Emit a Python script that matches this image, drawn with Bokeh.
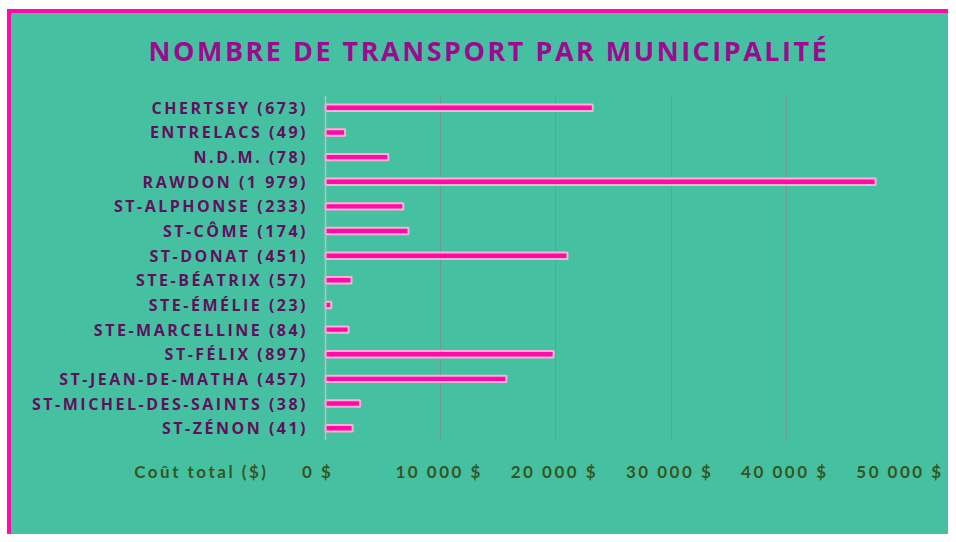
from bokeh.plotting import figure
from bokeh.models import Range1d, FactorRange, FixedTicker, ColumnDataSource, Span, LinearAxis
from bokeh.embed import file_html
from bokeh.resources import INLINE

# ---- data ----
municipalities = [
    "CHERTSEY (673)", "ENTRELACS (49)", "N.D.M. (78)", "RAWDON (1 979)",
    "ST-ALPHONSE (233)", "ST-CÔME (174)", "ST-DONAT (451)", "STE-BÉATRIX (57)",
    "STE-ÉMÉLIE (23)", "STE-MARCELLINE (84)", "ST-FÉLIX (897)",
    "ST-JEAN-DE-MATHA (457)", "ST-MICHEL-DES-SAINTS (38)", "ST-ZÉNON (41)",
]
total_cost = [23200, 1700, 5450, 47750, 6750, 7200, 21000, 2250, 500, 2000,
              19800, 15700, 3000, 2350]
x_ticks = [0, 10000, 20000, 30000, 40000, 50000]
x_tick_labels = ["0 $", "10 000 $", "20 000 $", "30 000 $", "40 000 $", "50 000 $"]
title_text = "NOMBRE DE TRANSPORT PAR MUNICIPALITÉ"
x_title = "Coût total ($)"

# ---- layout helpers (positions, not data) ----
X_MIN, X_MAX = -27000, 50000
X_TITLE_POS = -11300
CAT_LABEL_POS = -1736
SPACING = 2.5                  # px letter spacing
LABEL_SHIFT = 1000             # axis units ~ 11 px, recentres letter-spaced tick labels

BG = "#45c1a2"
PINK = "#ff0ca8"
GREEN = "#37561f"

src = ColumnDataSource(dict(
    cat=municipalities, cost=total_cost,
    lx=[CAT_LABEL_POS] * len(municipalities),
    dx=[-(len(s) - 1) * SPACING for s in municipalities],
))

p = figure(
    width=948, height=534,
    y_range=FactorRange(factors=list(reversed(municipalities))),
    x_range=Range1d(X_MIN, X_MAX),
    y_axis_location=None, x_axis_location=None,
    output_backend="svg", toolbar_location=None,
    min_border_left=14, min_border_right=47,
    min_border_top=95, min_border_bottom=94,
)
p.styles = {
    "background-color": BG,
    "box-shadow": "inset 7px 9px 0 0 #ffffff, inset 11px 13px 0 0 " + PINK,
    "letter-spacing": "%spx" % SPACING,
}
p.background_fill_color = None
p.border_fill_color = None
p.outline_line_color = None

# grid
p.ygrid.grid_line_color = None
p.xgrid.ticker = FixedTicker(ticks=x_ticks[1:])
p.xgrid.grid_line_color = "#6c9c8f"
p.xgrid.grid_line_width = 1

# value axis line at 0
p.add_layout(Span(location=0, dimension="height", line_color="#b8c2be", line_width=1.5))

p.hbar(y="cat", left=0, right="cost", height=0.26, source=src,
       fill_color=PINK, line_color="#ffb0d8", line_width=2)

# category labels
p.text(x="lx", y="cat", text="cat", x_offset="dx", source=src, text_align="right",
       text_baseline="middle", text_font={"value": "Open Sans"},
       text_font_style="bold", text_font_size="16px", text_color="#61105d")

# title
p.title.text = title_text
p.title.align = "left"
p.title.offset = 134
p.title.text_font = "Open Sans"
p.title.text_font_style = "bold"
p.title.text_font_size = "27px"
p.title.text_color = "#9c0b8f"
p.title.standoff = 54

# x axis (axis title placed on the tick row)
p.extra_x_ranges = {"ticks": Range1d(X_MIN + LABEL_SHIFT, X_MAX + LABEL_SHIFT)}
xaxis = LinearAxis(x_range_name="ticks")
xaxis.ticker = FixedTicker(ticks=[X_TITLE_POS] + x_ticks)
overrides = {t: l for t, l in zip(x_ticks, x_tick_labels)}
overrides[X_TITLE_POS] = x_title
xaxis.major_label_overrides = overrides
xaxis.axis_line_color = None
xaxis.major_tick_line_color = None
xaxis.minor_tick_line_color = None
xaxis.major_label_standoff = 14
xaxis.major_label_text_font = "Lato"
xaxis.major_label_text_font_style = "bold"
xaxis.major_label_text_font_size = "17px"
xaxis.major_label_text_color = GREEN
p.add_layout(xaxis, "below")

open("out.html", "w").write(file_html(p, INLINE))
